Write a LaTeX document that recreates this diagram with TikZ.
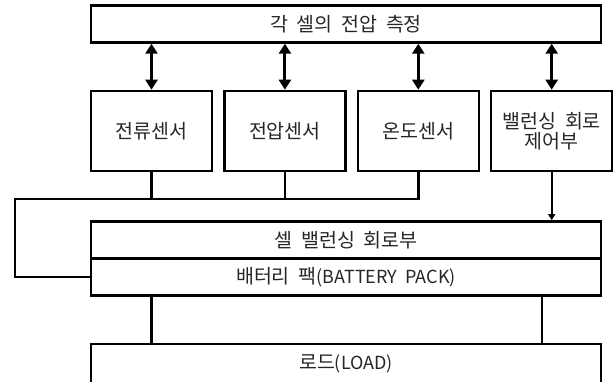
\documentclass[tikz,border=0pt]{standalone}
\usepackage{fontspec}
\setmainfont{Noto Sans CJK KR}[WordSpace=2]
\usetikzlibrary{arrows.meta,positioning,calc}

% latin words sit a little smaller than the hangul
\newcommand\lat[1]{{\fontsize{18}{20}\selectfont #1}}

\begin{document}
\begin{tikzpicture}[
    x=1pt, y=-1pt,
    box/.style={rectangle,
        draw, line width=2.4pt,
        text=black!85,
        text centered,
        inner sep=2pt,
        minimum height=80pt,
        minimum width=121pt},
    wide/.style={box, minimum width=510pt, minimum height=37pt},
    link/.style={line width=2.4pt},
    both/.style={line width=3pt,
        {Triangle[width=12pt,length=10pt]}-{Triangle[width=12pt,length=10pt]}},
    feed/.style={line width=1.6pt, -{Triangle[width=7pt,length=6pt]}},
    font=\fontsize{19.5}{20}\selectfont,
    node distance=10pt,
    ]

    \useasboundingbox (0,0) rectangle (615,382);
    \clip (0,0) rectangle (615,382);

    \node [wide] (meas) at (346,24) {각 셀의 전압 측정};
    \node [box, below right=46pt and 0pt of meas.south west] (cur) {전류센서};
    \node [box, right=of cur] (volt) {전압센서};
    \node [box, right=of volt] (temp) {온도센서};
    \node [box, right=of temp, align=center] (ctrl) {밸런싱 회로\\제어부};

    \node [wide, below right=48pt and 0pt of cur.south west] (cell) {셀 밸런싱 회로부};
    \node [wide, below=-2.4pt of cell] (pack) {배터리 팩\lat{(BATTERY PACK)}};
    % runs off the bottom edge
    \node [wide, minimum height=40pt, below=46pt of pack] (load) {로드\lat{(LOAD)}};

    \coordinate (busL) at (15,199);

    % sensors <-> measurement
    \foreach \n in {cur,volt,temp,ctrl}
        \draw[both] (\n.north) -- (\n.north |- meas.south);

    % sensor bus back to the pack
    \draw[link] (temp.south) |- (busL) |- (pack.west);
    \draw[link] (cur.south) -- (cur.south |- busL);
    \draw[link] (volt.south) -- (volt.south |- busL);

    \draw[feed] (ctrl.south) -- (ctrl.south |- cell.north);

    % pack to load
    \draw[link] (pack.south -| cur) -- (load.north -| cur);
    \draw[link] ([xshift=-60pt]pack.south east) -- ([xshift=-60pt]load.north east);
\end{tikzpicture}
\end{document}
